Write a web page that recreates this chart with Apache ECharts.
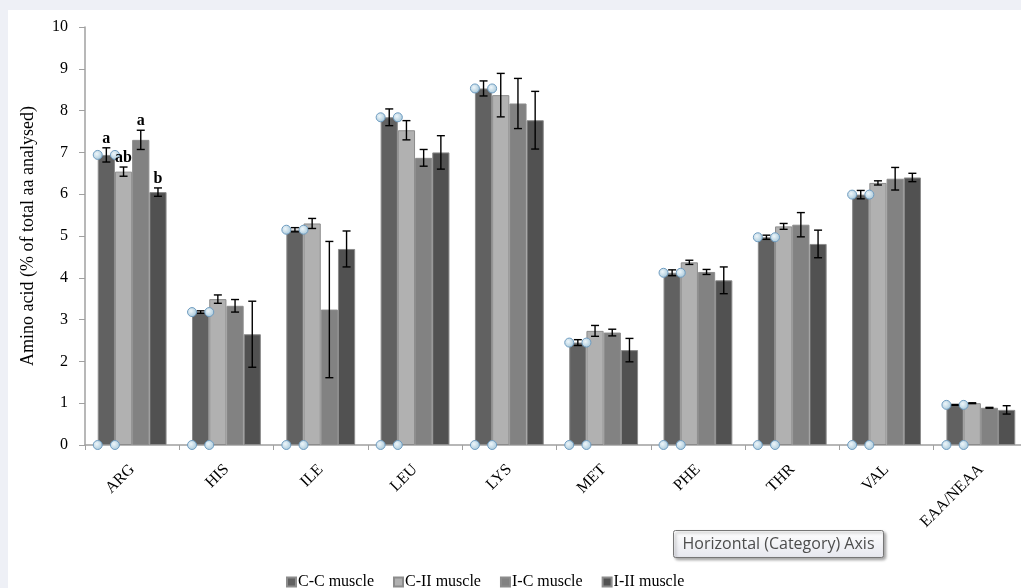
<!DOCTYPE html>
<html>
<head>
<meta charset="utf-8">
<script src="https://cdn.jsdelivr.net/npm/echarts@6/dist/echarts.min.js"></script>
<style>
html,body{margin:0;padding:0;background:#eef0f6;}
#bg{position:absolute;left:8px;top:10px;width:1013px;height:578px;background:#fff;}
#chart{position:absolute;left:0;top:0;width:1021px;height:588px;}
</style>
</head>
<body>
<div id="bg"></div>
<div id="chart"></div>
<script>
const categories = ['ARG','HIS','ILE','LEU','LYS','MET','PHE','THR','VAL','EAA/NEAA'];
const seriesNames = ['C-C muscle','C-II muscle','I-C muscle','I-II muscle'];
const ccMuscle  = [6.94, 3.18, 5.15, 7.84, 8.53, 2.45, 4.12, 4.97, 5.99, 0.96];
const ciiMuscle = [6.54, 3.49, 5.30, 7.53, 8.37, 2.73, 4.37, 5.23, 6.27, 1.00];
const icMuscle  = [7.30, 3.33, 3.24, 6.87, 8.17, 2.69, 4.14, 5.27, 6.37, 0.89];
const iiiMuscle = [6.05, 2.65, 4.69, 7.00, 7.77, 2.27, 3.94, 4.81, 6.40, 0.84];
const ccErr  = [0.17, 0.03, 0.05, 0.20, 0.18, 0.07, 0.07, 0.05, 0.10, 0.01];
const ciiErr = [0.11, 0.10, 0.12, 0.23, 0.52, 0.13, 0.05, 0.07, 0.05, 0.01];
const icErr  = [0.23, 0.15, 1.63, 0.20, 0.60, 0.08, 0.06, 0.29, 0.27, 0.01];
const iiErr  = [0.10, 0.79, 0.43, 0.40, 0.69, 0.28, 0.32, 0.33, 0.10, 0.10];
const argLetters = ['a','ab','a','b'];
const yTicks = [0,1,2,3,4,5,6,7,8,9,10];

const values = [ccMuscle, ciiMuscle, icMuscle, iiiMuscle];
const errors = [ccErr, ciiErr, icErr, iiErr];
const colors = ['#616161','#b1b1b1','#828282','#515151'];
const GAP = 0.27;

const errData = [];
values.forEach((arr, s) => arr.forEach((v, c) => errData.push([c, s, v, errors[s][c]])));

const serif = '"Liberation Serif", "DejaVu Serif", serif';

function renderErr(params, api) {
  const c = api.value(0), s = api.value(1), v = api.value(2), e = api.value(3);
  const catW = api.size([1, 0])[0];
  const bw = catW * (1 - GAP) / 4;
  const center = api.coord([c, 0]);
  const left = center[0] - 2 * bw + s * bw;
  const x = left + bw / 2;
  const top = api.coord([c, v + e])[1];
  const bot = api.coord([c, v - e])[1];
  const barTop = api.coord([c, v])[1];
  const base = center[1];
  const st = {stroke: '#000', lineWidth: 1.4};
  const children = [
    {type:'line', shape:{x1:x, y1:top, x2:x, y2:bot}, style:st},
    {type:'line', shape:{x1:x-4, y1:top, x2:x+4, y2:top}, style:st},
    {type:'line', shape:{x1:x-4, y1:bot, x2:x+4, y2:bot}, style:st}
  ];
  if (c === 0) {
    children.push({type:'text', style:{text: argLetters[s], x: x, y: top - 1, textAlign:'center', textVerticalAlign:'bottom', font: 'bold 16px ' + serif, fill:'#000'}});
  }
  if (s === 0) {
    const hs = {fill: new echarts.graphic.RadialGradient(0.4,0.4,0.6,[{offset:0,color:'#eef6fa'},{offset:1,color:'#a9c9db'}]), stroke:'#6f9cc0', lineWidth:1};
    [[left, barTop],[left+bw, barTop],[left, base],[left+bw, base]].forEach(p => {
      children.push({type:'circle', shape:{cx:p[0], cy:p[1], r:4.5}, style:hs});
    });
  }
  return {type:'group', children};
}

const chart = echarts.init(document.getElementById('chart'), null, {renderer:'canvas'});
const series = values.map((arr, s) => ({
  name: seriesNames[s], type: 'bar', data: arr,
  barGap: '0%', barCategoryGap: (GAP*100) + '%',
  itemStyle: {color: colors[s], borderColor: '#8c8c8c', borderWidth: 1},
  emphasis: {disabled: true}, z: 2
}));
series.push({
  type: 'custom', data: errData, renderItem: renderErr, z: 5,
  encode: {x: 0, y: 2}, silent: true
});

chart.setOption({
  animation: false,
  backgroundColor: 'transparent',
  grid: {left: 85, top: 27, width: 943, height: 418, containLabel: false, outerBoundsMode: 'none'},
  legend: {
    data: seriesNames, left: 281, top: 569, icon: 'rect', itemWidth: 9, itemHeight: 9, itemGap: 19,
    textStyle: {fontFamily: serif, fontSize: 16, color: '#000', padding:[0,0,0,-3]}
  },
  xAxis: {
    type: 'category', data: categories,
    axisLine: {lineStyle: {color: '#a0a0a0', width: 1.5}},
    axisTick: {show: true, length: 5, lineStyle: {color: '#a0a0a0'}},
    axisLabel: {rotate: 45, margin: 22, fontFamily: serif, fontSize: 16, color: '#000', interval: 0}
  },
  yAxis: {
    type: 'value', min: yTicks[0], max: yTicks[yTicks.length-1], interval: 1,
    name: 'Amino acid (% of total aa analysed)', nameLocation: 'middle', nameGap: 48, nameRotate: 90,
    nameTextStyle: {fontFamily: serif, fontSize: 18, color: '#000'},
    axisLine: {show: true, lineStyle: {color: '#a0a0a0', width: 1.5}},
    axisTick: {show: true, length: 6, lineStyle: {color: '#a0a0a0'}},
    axisLabel: {fontFamily: serif, fontSize: 16, color: '#000', margin: 17},
    splitLine: {show: false}
  },
  graphic: [
    {type:'group', left: 673, top: 530, z: 100, children: [
      {type:'rect', shape:{x:0,y:0,width:210,height:27,r:2},
       style:{fill: new echarts.graphic.LinearGradient(0,0,0,1,[{offset:0,color:'#ffffff'},{offset:1,color:'#e6e7ee'}]),
              stroke:'#767676', lineWidth:1, shadowBlur:3, shadowOffsetX:2, shadowOffsetY:2, shadowColor:'rgba(0,0,0,0.35)'}},
      {type:'text', style:{text:'Horizontal (Category) Axis', x:9, y:13.5, textVerticalAlign:'middle', font:'16px "Open Sans", sans-serif', fill:'#4d4d4d'}}
    ]}
  ],
  series
});
</script>
</body>
</html>
